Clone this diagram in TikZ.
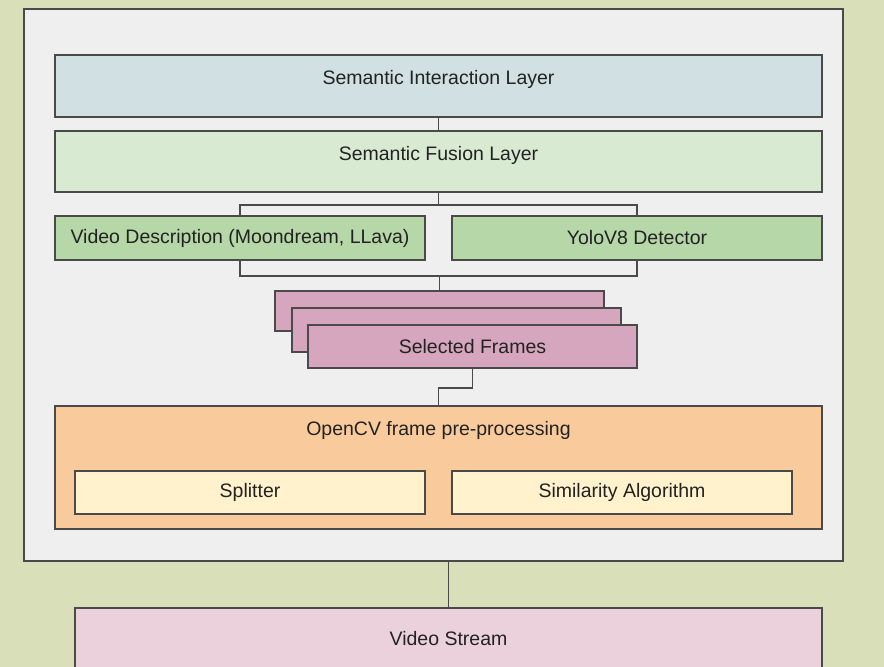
\documentclass[tikz,border=0pt]{standalone}
\usepackage{fontspec}
\setmainfont{Liberation Sans}
\usetikzlibrary{positioning}

\definecolor{bgolive}{HTML}{D9DFB9}
\definecolor{panelgray}{HTML}{EFEFEF}
\definecolor{edgegray}{HTML}{4A4A4A}
\definecolor{textgray}{HTML}{222222}
\definecolor{interblue}{HTML}{D0E0E3}
\definecolor{fusiongreen}{HTML}{D9EAD3}
\definecolor{detectgreen}{HTML}{B6D7A8}
\definecolor{framepink}{HTML}{D5A6BD}
\definecolor{cvorange}{HTML}{F9CB9C}
\definecolor{stepcream}{HTML}{FFF2CC}
\definecolor{streampink}{HTML}{EAD1DC}

\begin{document}
\begin{tikzpicture}[x=1pt,y=-1pt,line width=1.1pt,
	font=\fontsize{19.5}{23}\selectfont,text=textgray,
	layer box/.style={rectangle,draw=edgegray,inner sep=0pt,outer sep=0pt,line width=1.1pt},
	top text/.style={label={[anchor=base,yshift=-29pt]north:#1}},
	link/.style={draw=edgegray,line width=1.1pt}]

	\useasboundingbox (0,0) rectangle (884,667);
	\fill[bgolive] (0,0) rectangle (884,667);

	\node[layer box,fill=panelgray,line width=1.5pt,minimum width=819pt,minimum height=552pt] (panel) at (433.5,285) {};

	\node[layer box,fill=interblue,minimum width=767pt,minimum height=62pt,top text={Semantic Interaction Layer}] (interaction) at (438.5,86) {};
	\node[layer box,fill=fusiongreen,minimum width=767pt,minimum height=61pt,top text={Semantic Fusion Layer}] (fusion) at (438.5,161.5) {};

	\node[layer box,fill=detectgreen,minimum width=370pt,minimum height=44pt] (describer) at (240,238) {Video Description (Moondream, LLava)};
	\node[layer box,fill=detectgreen,minimum width=370pt,minimum height=44pt] (yolo) at (637,238) {YoloV8 Detector};

	\node[layer box,fill=framepink,minimum width=329pt,minimum height=40pt] (frameBack) at (439.5,311) {};
	\node[layer box,fill=framepink,minimum width=329pt,minimum height=44pt] (frameMid) at (456.5,330) {};
	\node[layer box,fill=framepink,minimum width=329pt,minimum height=43pt] (frameFront) at (472.5,346.5) {Selected Frames};

	\node[layer box,fill=cvorange,minimum width=767pt,minimum height=123pt,top text={OpenCV frame pre-processing}] (opencv) at (438.5,467.5) {};
	\node[layer box,fill=stepcream,minimum width=350pt,minimum height=43pt] (splitter) at (250,492.5) {Splitter};
	\node[layer box,fill=stepcream,minimum width=340pt,minimum height=43pt] (similarity) at (622,492.5) {Similarity Algorithm};

	\node[layer box,fill=streampink,minimum width=747pt,minimum height=62pt] (stream) at (448.5,639) {Video Stream};

	% connectors
	\coordinate (topbar) at (438.5,205);
	\coordinate (botbar) at (439.5,276);
	\coordinate (jog) at (472.5,388);
	\path[link] (interaction.south) -- (fusion.north);
	\path[link] (fusion.south) -- (topbar);
	\path[link] (describer.north) |- (topbar) -| (yolo.north);
	\path[link] (describer.south) |- (botbar) -| (yolo.south);
	\path[link] (botbar) -- (frameBack.north);
	\path[link] (frameFront.south) -- (jog) -| (opencv.north);
	\path[link] (stream.north |- panel.south) -- (stream.north);
\end{tikzpicture}
\end{document}
